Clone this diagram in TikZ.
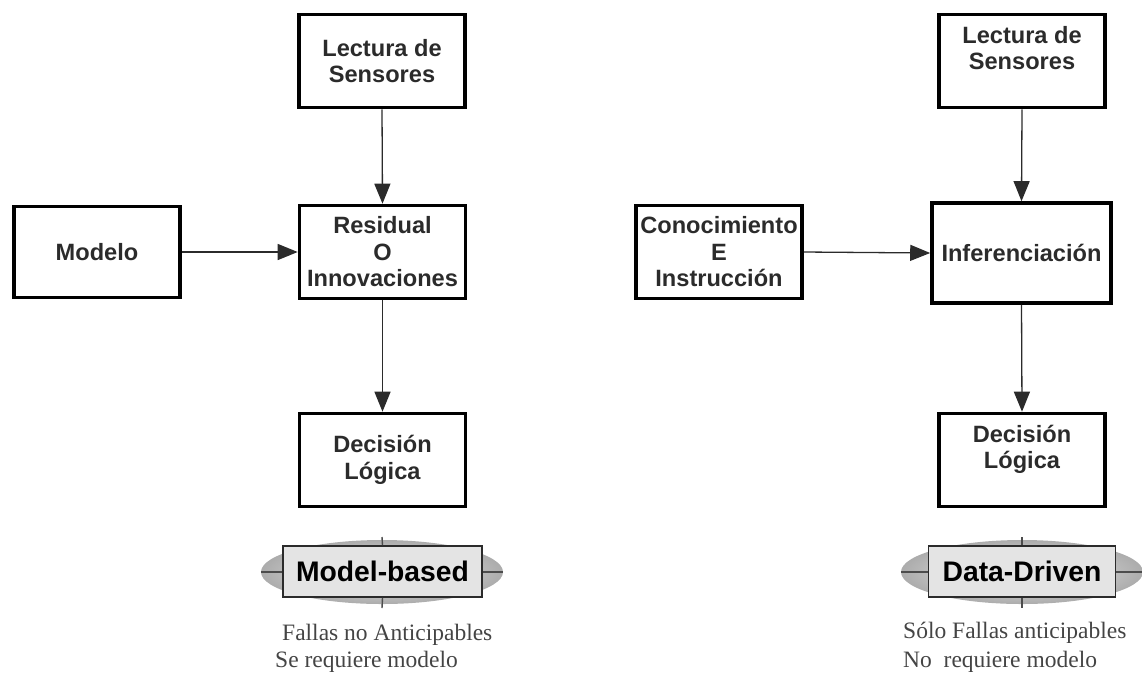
\documentclass[tikz,border=0pt]{standalone}
\usepackage{fontspec}
\setmainfont{Liberation Serif}
\newfontfamily\boxfont{Liberation Sans}
\usetikzlibrary{arrows.meta,shapes.geometric}

\definecolor{inkgray}{HTML}{2B2B2B}
\definecolor{notegray}{HTML}{444444}
\definecolor{tagfill}{HTML}{E4E4E4}

\tikzset{
  blockbox/.style={draw=black, line width=3.6pt, rectangle, inner sep=0pt,
    minimum width=166pt, minimum height=93pt, align=center,
    text=inkgray, font=\boxfont\bfseries\fontsize{23.6}{26.5}\selectfont},
  flow/.style={draw=inkgray, line width=1.3pt,
    -{Triangle[length=20pt,width=16pt]}},
  tagbox/.style={draw=inkgray, line width=1.6pt, fill=tagfill, rectangle,
    inner sep=0pt, minimum height=51pt, text=black,
    font=\boxfont\bfseries\fontsize{28.3}{31}\selectfont},
  tagglow/.style={ellipse, draw=none, inner sep=0pt,
    minimum width=242pt, minimum height=64pt,
    inner color=gray!12, outer color=gray!65},
  tagline/.style={draw=gray!60!black, line width=1.4pt},
  note/.style={anchor=west, inner sep=0pt, text=notegray,
    font=\fontsize{23.5}{27}\selectfont}
}

\begin{document}
\begin{tikzpicture}[x=1pt, y=-1pt]
  \useasboundingbox (0,0) rectangle (1142,673);

  % ---- model-based scheme ----
  \node[blockbox] (lecL) at (382,61) {Lectura de\\Sensores};
  \node[blockbox] (res)  at (382.5,252) {Residual\\O\\Innovaciones};
  \node[blockbox, minimum height=91pt] (mod) at (97,252) {Modelo};
  \node[blockbox] (decL) at (382.5,460) {Decisión\\Lógica};

  \draw[flow] (lecL.south) -- (res.north);
  \draw[flow] (mod.east) -- (res.west);
  \draw[flow] (res.south) -- (decL.north);

  \node[tagglow] (mbGlow) at (382,572) {};
  \coordinate (mbTopA) at (382,537);
  \coordinate (mbBotA) at (382,608);
  \draw[tagline] (mbGlow.west) -- (mbGlow.east);
  \node[tagbox, minimum width=199pt] (mb) at (382.5,571.5) {Model-based};
  \draw[tagline] (mbTopA) -- (mb.north);
  \draw[tagline] (mb.south) -- (mbBotA);

  \node[note] (mbN1) at (282,635) {Fallas no Anticipables};
  \node[note] (mbN2) at (275,662) {Se requiere modelo};

  % ---- data-driven scheme ----
  \node[blockbox] (lecR) at (1022,61) {Lectura de\\Sensores\\\mbox{}};
  \node[blockbox] (con)  at (719,252) {Conocimiento\\E\\Instrucción};
  \node[blockbox, minimum width=179pt, minimum height=100pt] (inf) at (1021.5,253) {Inferenciación};
  \node[blockbox] (decR) at (1022,460) {Decisión\\Lógica\\\mbox{}};

  \draw[flow] (lecR.south) -- (inf.north);
  \draw[flow] (con.east) -- (inf.west);
  \draw[flow] (inf.south) -- (decR.north);

  \node[tagglow] (ddGlow) at (1022,572) {};
  \coordinate (ddTopA) at (1022,537);
  \coordinate (ddBotA) at (1022,608);
  \draw[tagline] (ddGlow.west) -- (ddGlow.east);
  \node[tagbox, minimum width=187pt] (dd) at (1022,571.5) {Data-Driven};
  \draw[tagline] (ddTopA) -- (dd.north);
  \draw[tagline] (dd.south) -- (ddBotA);

  \node[note] (ddN1) at (903,633) {Sólo Fallas anticipables};
  \node[note] (ddN2) at (903,662) {No\ \ requiere modelo};
\end{tikzpicture}
\end{document}
